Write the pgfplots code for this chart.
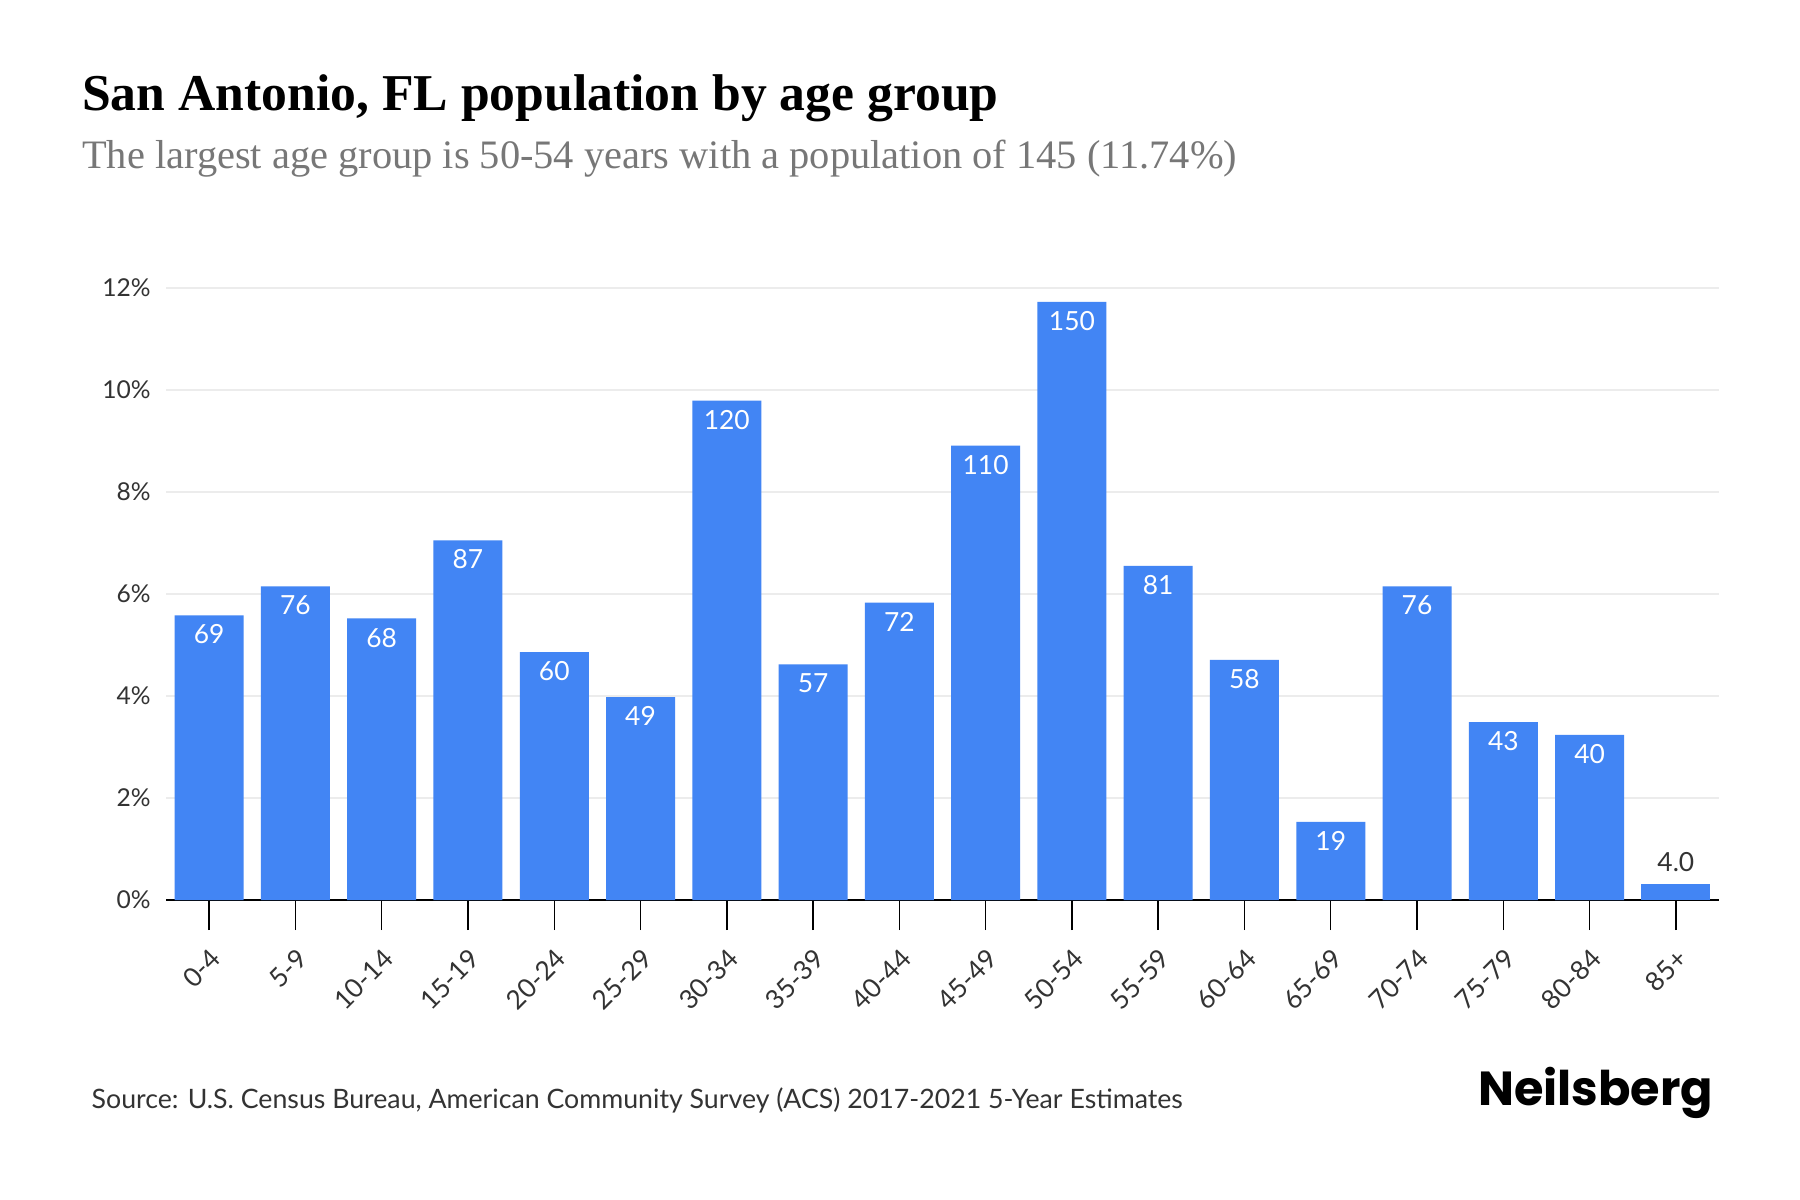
\documentclass[border=0pt]{standalone}
\usepackage{pgfplots}
\pgfplotsset{compat=1.18}
\usepackage{pgfplotstable}
\usepackage{fontspec}
\setmainfont{Liberation Serif}
\newfontfamily\sansf{Lato}
\newfontfamily\logof{Poppins}
\definecolor{barblue}{HTML}{4285F4}
\definecolor{subgray}{HTML}{777777}
\definecolor{tickgray}{HTML}{333333}
\definecolor{gridgray}{HTML}{ECECEC}

\pgfplotstableread{
x y lab
0 5.58 69
1 6.15 76
2 5.52 68
3 7.05 87
4 4.86 60
5 3.98 49
6 9.79 120
7 4.62 57
8 5.83 72
9 8.91 110
10 11.73 150
11 6.55 81
12 4.71 58
13 1.53 19
14 6.15 76
15 3.49 43
16 3.24 40
}\maindata
\pgfplotstableread{
x y lab
17 0.32 4.0
}\lastdata

\begin{document}
\begin{tikzpicture}
\path[use as bounding box, fill=white] (0mm,0mm) rectangle (180mm,120mm);
\node[anchor=base west, inner sep=0pt] at (8.15mm,108.9mm)
  {\fontsize{14.7}{17}\selectfont\bfseries San Antonio, FL population by age group};
\node[anchor=base west, inner sep=0pt, text=subgray] at (8.15mm,103.1mm)
  {\fontsize{11.5}{13}\selectfont The largest age group is 50-54 years with a population of 145 (11.74\%)};
\begin{axis}[
  at={(16.6mm,30mm)}, anchor=south west,
  scale only axis, width=155.3mm, height=61.2mm,
  xmin=-0.5, xmax=17.5, ymin=0, ymax=12,
  ybar, bar width=6.9mm,
  axis x line=bottom, axis y line=left,
  x axis line style={-, black, line width=0.6pt},
  y axis line style={draw=none},
  ymajorgrids, grid style={gridgray, line width=0.5pt},
  ytick={0,2,4,6,8,10,12},
  yticklabels={0\%,2\%,4\%,6\%,8\%,10\%,12\%},
  ytick style={draw=none},
  xtick={0,...,17},
  xticklabels={0-4,5-9,10-14,15-19,20-24,25-29,30-34,35-39,40-44,45-49,50-54,55-59,60-64,65-69,70-74,75-79,80-84,85+},
  xtick style={black, line width=0.4pt},
  tick align=outside, major tick length=3mm,
  xticklabel style={rotate=45, anchor=north east, font=\sansf\fontsize{7.5}{9}\selectfont, text=tickgray},
  yticklabel style={xshift=2.7mm, font=\sansf\fontsize{7}{9}\selectfont, text=tickgray},
  point meta=explicit symbolic,
  nodes near coords,
  clip=false,
]
\addplot[fill=barblue, draw=none, bar shift=0pt,
  every node near coord/.append style={anchor=north, yshift=0.3mm, text=white, font=\sansf\fontsize{7.5}{9}\selectfont}]
  table[x=x, y=y, meta=lab] {\maindata};
\addplot[fill=barblue, draw=none, bar shift=0pt,
  every node near coord/.append style={anchor=south, text=tickgray, font=\sansf\fontsize{7.5}{9}\selectfont}]
  table[x=x, y=y, meta=lab] {\lastdata};
\end{axis}
\node[anchor=base west, inner sep=0pt, text=tickgray] at (9.1mm,9.1mm)
  {\sansf\fontsize{7.6}{9}\selectfont Source: U.S. Census Bureau, American Community Survey (ACS) 2017-2021 5-Year Estimates};
\node[anchor=base east, inner sep=0pt] at (171.4mm,9.4mm)
  {\logof\bfseries\fontsize{13.6}{16}\selectfont Neilsberg};
\end{tikzpicture}
\end{document}
